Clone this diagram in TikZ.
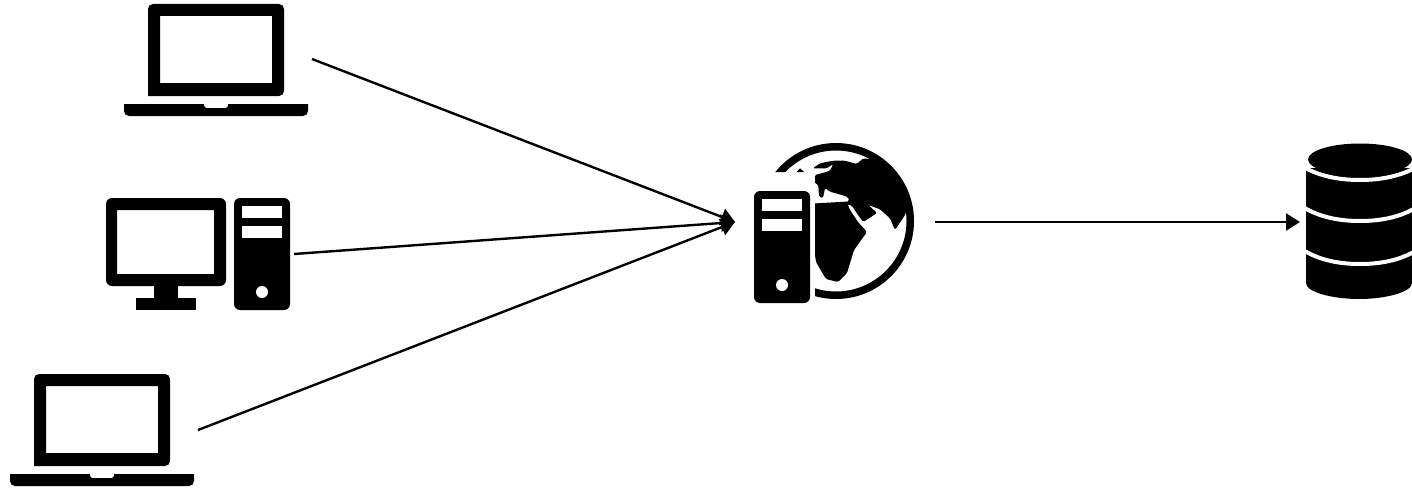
\documentclass[tikz,border=0pt]{standalone}
\usetikzlibrary{arrows.meta}
\tikzset{
  ink/.style={fill=black,draw=none},
  hole/.style={fill=white,draw=none},
  link/.style={draw=black,line width=2.4pt,-{Triangle[length=14pt,width=17pt]}},
  band/.style={draw=white,line width=4pt},
  laptopicon/.pic={
    \fill[ink,even odd rule]
      [rounded corners=5pt] (148,96) -- (148,4) -- (284,4) -- (284,96) [sharp corners] -- cycle
      (160,16) rectangle (272,83);
    \fill[ink] (124,104) -- (204,104) -- (204,106) -- (206,108) -- (226,108) -- (228,106) -- (228,104) -- (308,104)
      [rounded corners=5pt] -- (308,116) -- (124,116) [sharp corners] -- cycle;
  },
  towericon/.pic={
    \fill[ink,rounded corners=6pt] (0,0) rectangle (56,112);
    \fill[hole] (8,8) rectangle (48,20);
    \fill[hole] (8,28) rectangle (48,40);
    \fill[hole] (28,94) circle (6);
  }
}
\begin{document}
\begin{tikzpicture}[x=1pt,y=-1pt]
\useasboundingbox (0,0) rectangle (1412,487);
\fill[white] (0,0) rectangle (1412,487);

% laptops
\pic at (0,0) {laptopicon};
\pic at (-114,370) {laptopicon};

% desktop
\fill[ink,even odd rule] [rounded corners=6pt] (106,198) rectangle (226,286)
  [sharp corners] (117,210) rectangle (214,274);
\fill[ink] (154,285) rectangle (178,299);
\fill[ink] (136,298) rectangle (196,310);
\pic at (234,198) {towericon};

% globe
\begin{scope}
  \clip (815,100) rectangle (1000,320) (700,100) rectangle (815,172);
  \fill[ink,even odd rule] (836,221) circle (78) (836,221) circle (70.5);
  \fill[ink] (796,172.7) -- (800,168.3) -- (805,172.7) -- cycle;
  \fill[ink,rounded corners=1.5pt] (863.3,158.3) -- (856.7,164) -- (845,160.7) -- (833.3,160.7) -- (820,163.3)
    -- (812.7,168.3) -- (826.7,168.3) -- (833.3,164) -- (830,170.7) -- (821.7,173.3) -- (815,175)
    -- (813.3,181.7) -- (818.3,185) -- (819,196.7) -- (823,198) -- (825,188) -- (830,191.7)
    -- (841.7,195) -- (848.3,197.3) -- (849,201.5) -- (813,203.5)
    -- (813,241) -- (816,262) -- (826,279) -- (838,282) -- (847,273) -- (854,250) -- (867,232)
    -- (858,222) -- (850,210) -- (847.5,204) -- (852,206) -- (858,215) -- (863.3,222)
    -- (877,213) -- (868.3,205) -- (880,209.3) -- (890,218.3) -- (895,230) -- (905,215)
    -- (908,205) -- (902,188) -- (892,173) -- (877,160) -- cycle;
\end{scope}
\pic at (754,191) {towericon};

% database
\fill[ink] (1306,168) -- (1412,168) -- (1412,283)
  .. controls (1412,292) and (1386,299) .. (1359,299)
  .. controls (1332,299) and (1306,292) .. (1306,283) -- cycle;
\draw[band] (1300,165) .. controls (1316,175) and (1336,180) .. (1360,180) .. controls (1384,180) and (1404,175) .. (1420,165);
\draw[band] (1300,205) .. controls (1316,216) and (1336,221) .. (1360,221) .. controls (1384,221) and (1404,216) .. (1420,205);
\draw[band] (1300,248) .. controls (1316,259) and (1336,264) .. (1360,264) .. controls (1384,264) and (1404,259) .. (1420,248);
\fill[ink] (1360,159.5) ellipse (52 and 16);

% connectors
\coordinate (laptopAout) at (312,59);
\coordinate (desktopout) at (294,254);
\coordinate (laptopBout) at (198,430);
\coordinate (serverin) at (735,222);
\coordinate (serverout) at (935,222);
\coordinate (dbin) at (1300,222);
\draw[link] (laptopAout) -- (serverin);
\draw[link] (desktopout) -- (serverin);
\draw[link] (laptopBout) -- (serverin);
\draw[link] (serverout) -- (dbin);
\end{tikzpicture}
\end{document}
